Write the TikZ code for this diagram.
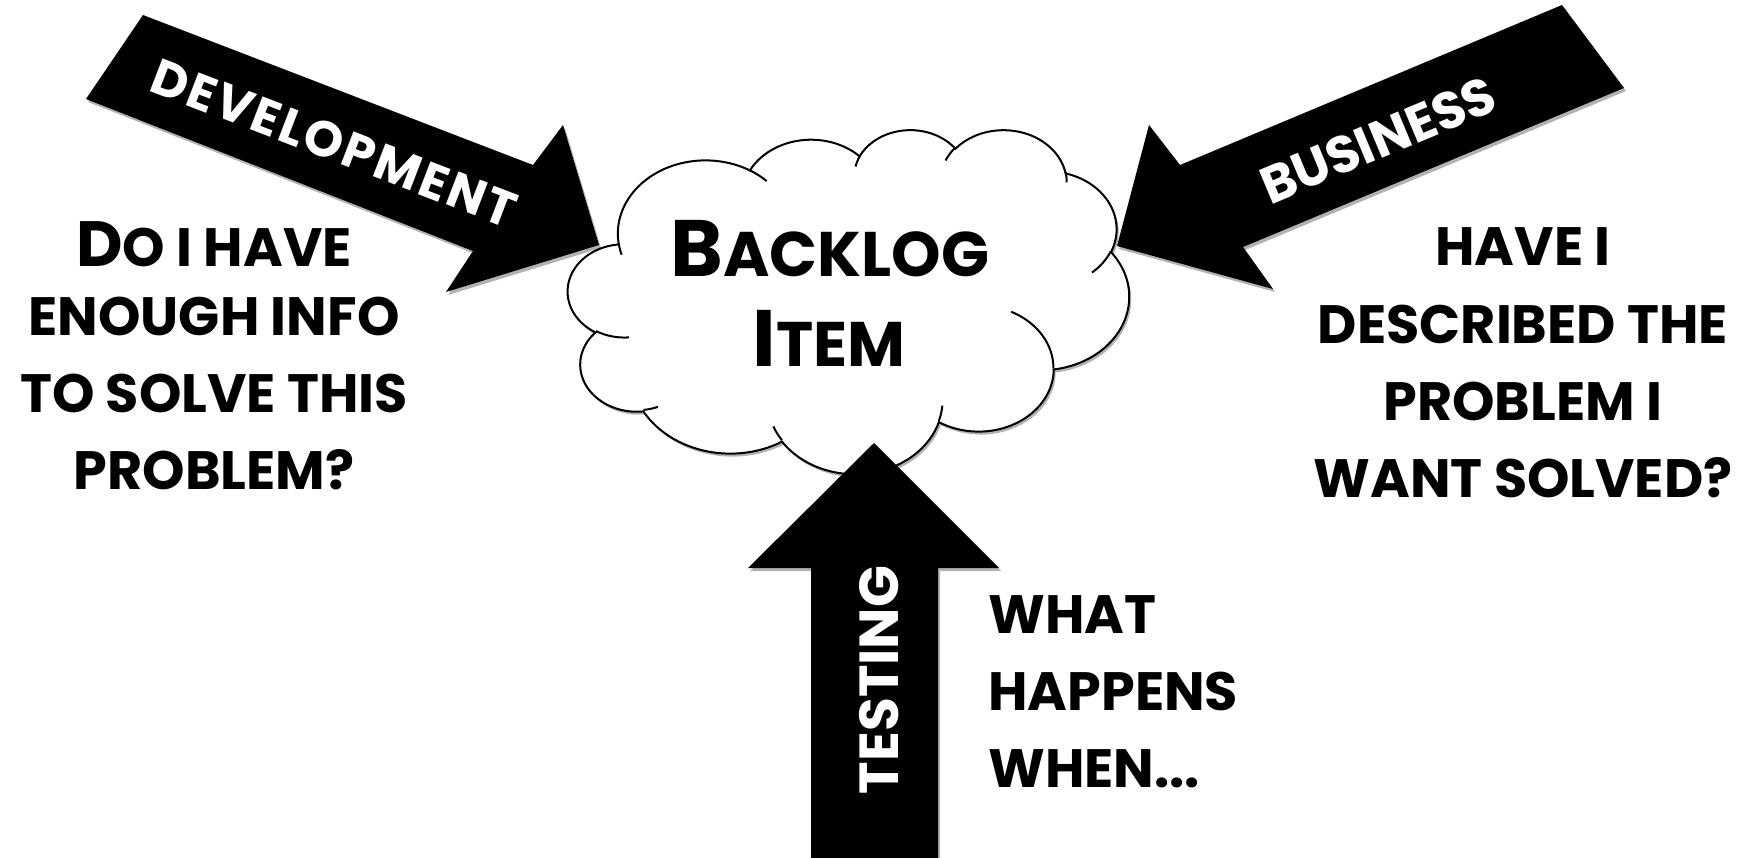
\documentclass[tikz,border=0pt]{standalone}
\usepackage{fontspec}
\setmainfont{Poppins}
\usetikzlibrary{shadows}
\newcommand\qfont{\fontsize{27}{30}\selectfont\bfseries}
\newcommand\bigB{\fontsize{40}{40}\selectfont\bfseries}
\newcommand\smB{\fontsize{31.5}{32}\selectfont\bfseries}
\begin{document}
\begin{tikzpicture}[x=0.5pt,y=-0.5pt,
  blk/.style={fill=black, draw=none,
    drop shadow={shadow xshift=1pt, shadow yshift=-1.5pt, opacity=0.3, fill=black}},
  cloudline/.style={draw=black, line width=1pt},
  oarc/.style n args={4}{insert path={arc[x radius=#1, y radius=#2,
      start angle={atan2((#1)*sin(#3),(#2)*cos(#3))},
      delta angle={mod(atan2((#1)*sin((#3)+(#4)),(#2)*cos((#3)+(#4)))-atan2((#1)*sin(#3),(#2)*cos(#3))+720,360)}]}},
  qline/.style={anchor=base, inner sep=0pt, font=\qfont},
  lab/.style={inner sep=0pt, text=white, font=\bfseries}
]
\useasboundingbox[fill=white] (0,0) rectangle (1746,857);

% ---- cloud ----
\begin{scope}[shift={(568,129)}, x=6.493pt, y=-3.981pt]
\path[cloudline, fill=white,
  drop shadow={shadow xshift=1pt, shadow yshift=-1.5pt, opacity=0.3, fill=black}]
  (3.900,14.370)
  [oarc={6.753}{9.190}{-190.4875}{123.7805}]
  [oarc={5.333}{7.267}{-144.1024}{89.9452}]
  [oarc={4.365}{5.945}{-145.8079}{99.7230}]
  [oarc={4.857}{6.595}{-130.9861}{117.2417}]
  [oarc={5.333}{7.273}{-78.7089}{109.0269}]
  [oarc={6.775}{9.220}{-46.2673}{130.2690}]
  [oarc={5.785}{7.867}{0.6250}{114.0333}]
  [oarc={6.752}{9.215}{22.4516}{115.1726}]
  [oarc={7.720}{10.543}{66.2426}{75.7110}]
  [oarc={4.360}{5.918}{-274.9421}{146.7356}]
  [oarc={4.345}{5.945}{-246.8285}{152.5189}]
  -- cycle;
\draw[cloudline] (4.693,26.177) [oarc={4.345}{5.945}{86.742}{26.4295}];
\draw[cloudline] (6.928,34.899) [oarc={4.360}{5.918}{73.6105}{11.4475}];
\draw[cloudline] (16.478,39.090) [oarc={6.752}{9.215}{137.6242}{14.0811}];
\draw[cloudline] (28.827,34.751) [oarc={6.752}{9.215}{6.4533}{15.9984}];
\draw[cloudline] (34.129,22.954) [oarc={5.785}{7.867}{-70.2924}{70.9174}];
\draw[cloudline] (41.798,15.354) [oarc={5.333}{7.273}{30.3180}{27.7515}];
\draw[cloudline] (38.324,5.426) [oarc={4.857}{6.595}{-13.7443}{14.8589}];
\draw[cloudline] (29.078,3.952) [oarc={4.857}{6.595}{-149.1815}{18.1954}];
\draw[cloudline] (22.141,4.720) [oarc={4.365}{5.945}{-163.4943}{17.6864}];
\draw[cloudline] (14.000,5.192) [oarc={6.753}{9.190}{-66.7070}{12.3194}];
\draw[cloudline] (4.127,15.789) [oarc={6.753}{9.190}{157.6544}{11.8582}];
\end{scope}

\node[anchor=base, inner sep=0pt] (backlog) at (830,276) {{\bigB B}{\smB ACKLOG}};
\node[anchor=base, inner sep=0pt] (item) at (829,366) {{\bigB I}{\smB TEM}};

% ---- arrows ----
\path[blk] (143,15) -- (533,165) -- (563,125) -- (599,245) -- (446,292) -- (473,251) -- (86,99) -- cycle;
\path[blk] (1562,5) -- (1624,88) -- (1243,247) -- (1273,289) -- (1117,246) -- (1149,125) -- (1180,165) -- cycle;
\path[blk] (874,443) -- (999,568) -- (938,568) -- (938,862) -- (811,862) -- (811,568) -- (748,568) -- cycle;

\node[lab, rotate=-21, font=\fontsize{25}{26}\selectfont\bfseries\addfontfeature{LetterSpace=5}] (devlab) at (334,143) {DEVELOPMENT};
\node[lab, rotate=22.7, font=\fontsize{26}{27}\selectfont\bfseries] (buslab) at (1378,140) {BUSINESS};
\node[lab, rotate=90, font=\fontsize{27.5}{28}\selectfont\bfseries] (testlab) at (879,680) {TESTING};

% ---- questions ----
\node[qline] (l1) at (214,266) {{\fontsize{32}{32}\selectfont D}O I HAVE};
\node[qline] (l2) at (214,335) {ENOUGH INFO};
\node[qline] (l3) at (214,412) {TO SOLVE THIS};
\node[qline] (l4) at (214,489) {PROBLEM?};

\node[qline] (r1) at (1523,265) {HAVE I};
\node[qline] (r2) at (1523,343) {DESCRIBED THE};
\node[qline] (r3) at (1523,420) {PROBLEM I};
\node[qline] (r4) at (1523,497) {WANT SOLVED?};

\node[qline, anchor=base west] (b1) at (988,633) {WHAT};
\node[qline, anchor=base west] (b2) at (988,710) {HAPPENS};
\node[qline, anchor=base west] (b3) at (988,787) {WHEN...};
\end{tikzpicture}
\end{document}
